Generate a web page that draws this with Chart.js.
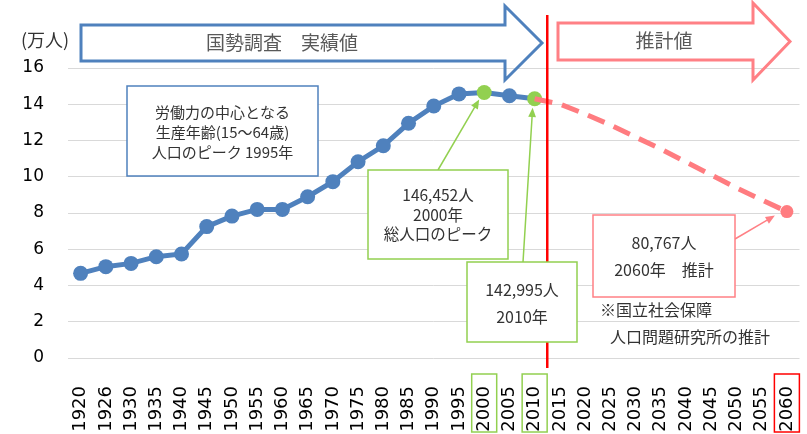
<!DOCTYPE html>
<html>
<head>
<meta charset="utf-8">
<script src="https://cdn.jsdelivr.net/npm/chart.js@4"></script>
<style>
  body { margin: 0; background: #fff; }
  #chart { display: block; }
</style>
</head>
<body>
<canvas id="chart" width="807" height="434"></canvas>
<script>
// years on the x axis
const years = ['1920', '1926', '1930', '1935', '1940', '1945', '1950', '1955', '1960', '1965',
  '1970', '1975', '1980', '1985', '1990', '1995', '2000', '2005', '2010', '2015',
  '2020', '2025', '2030', '2035', '2040', '2045', '2050', '2055', '2060'];

// 国勢調査 実績値 (万人)
const actual = [4.67, 5.04, 5.22, 5.59, 5.74, 7.25, 7.83, 8.2, 8.2, 8.9,
  9.73, 10.83, 11.71, 12.95, 13.9, 14.57, 14.6452, 14.47, 14.2995, null,
  null, null, null, null, null, null, null, null, null];

// 推計値 (万人)
const projection = [null, null, null, null, null, null, null, null, null, null,
  null, null, null, null, null, null, null, null, 14.2995, 14.01,
  13.46, 12.86, 12.19, 11.53, 10.81, 10.1, 9.38, 8.72, 8.0767];

const yTicks = [0, 2, 4, 6, 8, 10, 12, 14, 16];

const BLUE = '#4F81BD';
const GREEN = '#92D050';
const PINK = '#FF7C80';
const JP = "'Noto Sans CJK JP', sans-serif";

// highlighted points
const actualColors = years.map(y => (y === '2000' || y === '2010') ? GREEN : BLUE);

function outlineArrow(ctx, x0, x1, xt, bodyTop, bodyBot, headTop, headBot, color) {
  const mid = (headTop + headBot) / 2;
  ctx.beginPath();
  ctx.moveTo(x0, bodyTop);
  ctx.lineTo(x1, bodyTop);
  ctx.lineTo(x1, headTop);
  ctx.lineTo(xt, mid);
  ctx.lineTo(x1, headBot);
  ctx.lineTo(x1, bodyBot);
  ctx.lineTo(x0, bodyBot);
  ctx.closePath();
  ctx.lineWidth = 3;
  ctx.strokeStyle = color;
  ctx.lineJoin = 'miter';
  ctx.stroke();
}

function pointerArrow(ctx, x0, y0, x1, y1, color) {
  const ang = Math.atan2(y1 - y0, x1 - x0);
  const len = 10;
  ctx.strokeStyle = color;
  ctx.fillStyle = color;
  ctx.lineWidth = 1.5;
  ctx.beginPath();
  ctx.moveTo(x0, y0);
  ctx.lineTo(x1 - Math.cos(ang) * len * 0.8, y1 - Math.sin(ang) * len * 0.8);
  ctx.stroke();
  ctx.beginPath();
  ctx.moveTo(x1, y1);
  ctx.lineTo(x1 - len * Math.cos(ang - 0.4), y1 - len * Math.sin(ang - 0.4));
  ctx.lineTo(x1 - len * Math.cos(ang + 0.4), y1 - len * Math.sin(ang + 0.4));
  ctx.closePath();
  ctx.fill();
}

function textBox(ctx, x, y, w, h, color, lines, lineY, size) {
  ctx.fillStyle = '#fff';
  ctx.fillRect(x, y, w, h);
  ctx.strokeStyle = color;
  ctx.lineWidth = 1.5;
  ctx.strokeRect(x, y, w, h);
  ctx.fillStyle = '#333';
  ctx.font = size + 'px ' + JP;
  ctx.textAlign = 'center';
  ctx.textBaseline = 'middle';
  lines.forEach((t, i) => ctx.fillText(t, x + w / 2, lineY[i]));
}

const decorations = {
  id: 'decorations',
  afterDraw(chart) {
    const ctx = chart.ctx;
    const xs = chart.scales.x;
    const ys = chart.scales.y;
    const px = v => xs.getPixelForValue(years.indexOf(v));
    ctx.save();

    // unit label
    ctx.fillStyle = '#333';
    ctx.font = '18px ' + JP;
    ctx.textAlign = 'left';
    ctx.textBaseline = 'middle';
    ctx.fillText('(万人)', 21, 40);

    // boundary between actual and projection
    const xb = (px('2010') + px('2015')) / 2;
    ctx.strokeStyle = '#FF0000';
    ctx.lineWidth = 2.5;
    ctx.beginPath();
    ctx.moveTo(xb, 15);
    ctx.lineTo(xb, 368);
    ctx.stroke();

    // big arrows
    outlineArrow(ctx, 81, 505, 542, 25, 61, 6, 80, BLUE);
    outlineArrow(ctx, 558, 753, 790, 23, 60, 3, 80, '#FF8085');
    ctx.fillStyle = '#595959';
    ctx.font = '19px ' + JP;
    ctx.textAlign = 'center';
    ctx.fillText('国勢調査　実績値', 282, 43);
    ctx.fillText('推計値', 664, 41);

    // callouts
    textBox(ctx, 127, 86, 191, 90, BLUE,
      ['労働力の中心となる', '生産年齢(15～64歳)', '人口のピーク 1995年'], [112, 132, 152], 15);

    const p2000 = { x: px('2000'), y: ys.getPixelForValue(actual[16]) };
    const p2010 = { x: px('2010'), y: ys.getPixelForValue(actual[18]) };
    const p2060 = { x: px('2060'), y: ys.getPixelForValue(projection[28]) };

    pointerArrow(ctx, 438, 170, p2000.x - 5, p2000.y + 7, GREEN);
    textBox(ctx, 368, 170, 140, 89, GREEN,
      ['146,452人', '2000年', '総人口のピーク'], [195, 215, 234], 15.5);

    pointerArrow(ctx, 523, 262, p2010.x - 2, p2010.y + 9, GREEN);
    textBox(ctx, 467, 262, 110, 80, GREEN,
      ['142,995人', '2010年'], [290, 317], 16);

    pointerArrow(ctx, 735, 239, p2060.x - 12, p2060.y + 4, '#FF8085');
    textBox(ctx, 593, 215, 142, 82, '#FF8085',
      ['80,767人', '2060年　推計'], [243, 270], 16);

    ctx.fillStyle = '#333';
    ctx.font = '16px ' + JP;
    ctx.textAlign = 'left';
    ctx.fillText('※国立社会保障', 600, 310);
    ctx.fillText('人口問題研究所の推計', 610, 337);

    // frames around highlighted year labels
    ctx.lineWidth = 1.5;
    [['2000', GREEN], ['2010', GREEN], ['2060', '#FF0000']].forEach(([y, c]) => {
      const cx = px(y);
      ctx.strokeStyle = c;
      ctx.strokeRect(cx - 12.5, 374, 25, 58);
    });

    ctx.restore();
  }
};

new Chart(document.getElementById('chart'), {
  type: 'line',
  data: {
    labels: years,
    datasets: [
      {
        label: '推計値',
        data: projection,
        borderColor: PINK,
        borderWidth: 5,
        borderDash: [18, 10],
        pointRadius: years.map(y => y === '2060' ? 6.5 : 0),
        pointBackgroundColor: PINK,
        pointBorderWidth: 0,
        spanGaps: false,
        order: 0
      },
      {
        label: '実績値',
        data: actual,
        borderColor: BLUE,
        borderWidth: 5,
        pointRadius: 7.5,
        pointBackgroundColor: actualColors,
        pointBorderWidth: 0,
        order: 1
      }
    ]
  },
  options: {
    responsive: false,
    animation: false,
    layout: { padding: { top: 68, right: 7, left: 0, bottom: 0 } },
    plugins: {
      legend: { display: false },
      tooltip: { enabled: false }
    },
    scales: {
      x: {
        offset: true,
        grid: { display: false },
        border: { display: false },
        ticks: {
          color: '#000',
          font: { family: 'DejaVu Sans', size: 18 },
          minRotation: 90,
          maxRotation: 90,
          autoSkip: false,
          padding: 20
        },
        afterFit(scale) {
          scale.height = 76;
          scale.paddingLeft = 0;
          scale.paddingRight = 0;
        }
      },
      y: {
        min: 0,
        max: 16,
        afterBuildTicks(scale) { scale.ticks = yTicks.map(v => ({ value: v })); },
        grid: { color: '#D9D9D9', drawTicks: false },
        border: { display: false },
        ticks: {
          color: '#000',
          font: { family: 'DejaVu Sans', size: 17 },
          padding: 24
        },
        afterFit(scale) { scale.width = 68; }
      }
    }
  },
  plugins: [decorations]
});
</script>
</body>
</html>
